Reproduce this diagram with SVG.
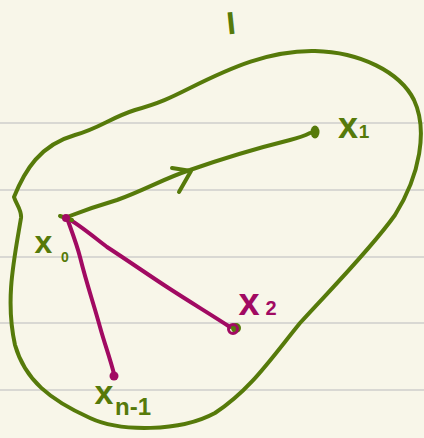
<svg xmlns="http://www.w3.org/2000/svg" width="424" height="438" viewBox="0 0 424 438">
  <style>
    .rule { stroke: #d9d8d3; stroke-width: 2; }
    .g { stroke: #567a0a; fill: none; stroke-width: 4; stroke-linecap: round; stroke-linejoin: round; }
    .m { stroke: #a10a62; fill: none; stroke-width: 4; stroke-linecap: round; stroke-linejoin: round; }
    .gt { fill: #567a0a; font-family: "Liberation Sans", Arial, sans-serif; font-weight: bold; }
    .mt { fill: #a10a62; font-family: "Liberation Sans", Arial, sans-serif; font-weight: bold; }
  </style>
  <rect width="424" height="438" fill="#f8f6e9"/>
  <g id="ruled-lines">
    <line class="rule" x1="0" y1="123" x2="424" y2="123"/>
    <line class="rule" x1="0" y1="190" x2="424" y2="190"/>
    <line class="rule" x1="0" y1="257" x2="424" y2="257"/>
    <line class="rule" x1="0" y1="323" x2="424" y2="323"/>
    <line class="rule" x1="0" y1="390" x2="424" y2="390"/>
  </g>
  <g id="region">
    <path class="g" d="M 14,197 C 25,170 40,145 75,135 C 100,128 110,118 135,110 C 160,103 170,98 190,88 C 230,68 270,50 315,51 C 360,52 400,72 414,100 C 428,130 420,175 395,215 C 370,250 330,290 300,323 C 270,360 250,390 215,413 C 180,432 120,432 90,418 C 50,400 25,380 15,345 C 5,300 14,260 21,218 C 22,210 16,204 14,197 Z"/>
    <text class="gt" x="231" y="34" font-size="32" text-anchor="middle" transform="rotate(-6 231 22)">I</text>
  </g>
  <g id="connectors">
    <path class="g" d="M 67,217 C 85,210 100,205 117,200 C 145,190 165,178 190,170 C 230,156 270,145 290,140 C 298,138 304,136 310,133"/>
    <path class="g" d="M 172,168 L 191,171 L 179,192"/>
    <path class="m" d="M 67,218 C 80,225 95,238 107,247 C 130,262 150,276 167,287 C 190,302 210,314 230,327"/>
    <path class="m" d="M 67,218 C 72,232 77,245 80,257 C 87,285 94,305 100,327 C 105,345 110,358 114,374"/>
  </g>
  <g id="x0">
    <path class="g" d="M 60,216 L 72,220" stroke-width="3"/>
    <circle cx="66" cy="218" r="4" fill="#a10a62"/>
    <text class="gt" x="43.5" y="253" font-size="32" text-anchor="middle">x</text>
    <text class="gt" x="65" y="262" font-size="14" text-anchor="middle">0</text>
  </g>
  <g id="x1">
    <ellipse cx="315" cy="132" rx="4.5" ry="6.5" fill="#567a0a"/>
    <text class="gt" x="348" y="138" font-size="36" text-anchor="middle">x</text>
    <text class="gt" x="364" y="138" font-size="19" text-anchor="middle">1</text>
  </g>
  <g id="x2">
    <circle cx="236" cy="328" r="5" fill="#567a0a"/>
    <circle cx="233" cy="329" r="4.5" fill="none" stroke="#a10a62" stroke-width="3"/>
    <text class="mt" x="249" y="315" font-size="38" text-anchor="middle">x</text>
    <text class="mt" x="271" y="315" font-size="20" text-anchor="middle">2</text>
  </g>
  <g id="xn-1">
    <circle cx="114" cy="376" r="4.5" fill="#a10a62"/>
    <text class="gt" x="104" y="404" font-size="34" text-anchor="middle">x</text>
    <text class="gt" x="115" y="415" font-size="24">n-1</text>
  </g>
</svg>
